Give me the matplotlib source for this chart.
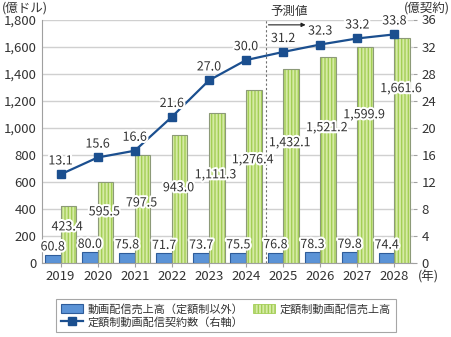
import matplotlib
matplotlib.use("Agg")
import matplotlib.pyplot as plt
import matplotlib.patheffects as pe
from matplotlib.lines import Line2D
import numpy as np

plt.rcParams['font.family'] = ['Noto Sans CJK JP', 'DejaVu Sans']
plt.rcParams['hatch.linewidth'] = 1.0

years = ['2019', '2020', '2021', '2022', '2023', '2024', '2025', '2026', '2027', '2028']
other_sales = [60.8, 80.0, 75.8, 71.7, 73.7, 75.5, 76.8, 78.3, 79.8, 74.4]
subs_sales = [423.4, 595.5, 797.5, 943.0, 1111.3, 1276.4, 1432.1, 1521.2, 1599.9, 1661.6]
contracts = [13.1, 15.6, 16.6, 21.6, 27.0, 30.0, 31.2, 32.3, 33.2, 33.8]
# label anchor heights (left-axis units) for the subscription-sales labels
subs_label_y = [267, 378, 444, 556, 652, 763, 889, 1000, 1096, 1289]

left_ticks = np.arange(0, 1801, 200)
right_ticks = np.arange(0, 37, 4)

label_names = ['動画配信売上高（定額制以外）', '定額制動画配信売上高', '定額制動画配信契約数（右軸）']

BLUE_FILL = '#5B93D6'
BLUE_EDGE = '#2E5C9A'
GREEN_FILL = '#D6EBA6'
GREEN_STRIPE = '#A3CE55'
GREEN_EDGE = '#8C9A78'
LINE_C = '#1B4F8F'
TXT = '#333333'

fig = plt.figure(figsize=(4.52, 3.37), dpi=100)
ax = fig.add_axes([42/452, 1-263/337, (413-42)/452, (263-19.5)/337])
ax2 = ax.twinx()

x = np.arange(len(years))
w = 0.42
halo = [pe.withStroke(linewidth=3, foreground='white')]

ax.bar(x - w/2, other_sales, w, color=BLUE_FILL, edgecolor=BLUE_EDGE, linewidth=0.8, zorder=3)
ax.bar(x + w/2, subs_sales, w, color=GREEN_FILL, edgecolor=GREEN_STRIPE, hatch='|||||', linewidth=0, zorder=3)
ax.bar(x + w/2, subs_sales, w, fill=False, edgecolor=GREEN_EDGE, linewidth=0.8, zorder=3)

for xi, v in zip(x, other_sales):
    ax.annotate(f'{v:.1f}', (xi - w/2, v), xytext=(0, 1), textcoords='offset points',
                ha='center', va='bottom', fontsize=9, color=TXT, path_effects=halo, zorder=6)
for xi, v, ly in zip(x, subs_sales, subs_label_y):
    ax.text(xi + w/2 - 0.03, ly, f'{v:,.1f}', ha='center', va='center', fontsize=9,
            color=TXT, path_effects=halo, zorder=6)

ax2.plot(x, contracts, color=LINE_C, linewidth=1.6, marker='s', markersize=6.2,
         markerfacecolor=LINE_C, markeredgecolor=LINE_C, zorder=5)
for xi, v in zip(x, contracts):
    ax2.annotate(f'{v:.1f}', (xi, v), xytext=(0, 5), textcoords='offset points',
                 ha='center', va='bottom', fontsize=9, color=TXT, path_effects=halo, zorder=6)

ax.set_xlim(-0.5, len(years) - 0.5)
ax.set_ylim(0, 1800)
ax2.set_ylim(0, 36)
ax.set_yticks(left_ticks)
ax.set_yticklabels([f'{t:,}' for t in left_ticks])
ax2.set_yticks(right_ticks)
ax.set_xticks(x)
ax.set_xticklabels(years)

ax.grid(axis='y', color='#D0D0D0', linewidth=1.0, zorder=0)
ax.set_axisbelow(True)
for a in (ax, ax2):
    for s in a.spines.values():
        s.set_visible(False)
ax.spines['left'].set_visible(True)
ax.spines['left'].set_color('#A0A0A0')
ax.spines['bottom'].set_visible(True)
ax.spines['bottom'].set_color('#A0A0A0')
ax.tick_params(axis='y', length=0, labelsize=9.5, labelcolor=TXT, pad=4)
ax.tick_params(axis='x', length=3, color='#A0A0A0', labelsize=9.5, labelcolor=TXT, pad=2)
ax2.tick_params(axis='y', length=3, color='#A0A0A0', labelsize=9.5, labelcolor=TXT, pad=3)

# forecast divider
ax.axvline(5.53, color='#707070', linestyle=(0, (2, 2)), linewidth=0.8, zorder=2)
ax.annotate('', xy=(6.68, 0.978), xytext=(5.53, 0.978), xycoords=('data', 'axes fraction'),
            arrowprops=dict(arrowstyle='-|>', color='#222222', lw=0.8, mutation_scale=6))
ax.text(5.65, 1.005, '予測値', transform=ax.get_xaxis_transform(), ha='left', va='bottom',
        fontsize=9, color=TXT)

fig.text(2/452, 1-8/337, '(億ドル)', ha='left', va='center', fontsize=9, color=TXT)
fig.text(450/452, 1-8/337, '(億契約)', ha='right', va='center', fontsize=9, color=TXT)
fig.text(418/452, 1-277/337, '(年)', ha='left', va='center', fontsize=9, color=TXT)

handles = [
    plt.Rectangle((0, 0), 1, 1, facecolor=BLUE_FILL, edgecolor=BLUE_EDGE, linewidth=0.8),
    Line2D([], [], color=LINE_C, linewidth=1.6, marker='s', markersize=5.5),
    plt.Rectangle((0, 0), 1, 1, facecolor=GREEN_FILL, edgecolor=GREEN_STRIPE, hatch='|||||', linewidth=0.6),
]
labels = [label_names[0], label_names[2], label_names[1]]
leg = fig.legend(handles, labels, loc='center', bbox_to_anchor=(226/452, 1-315.5/337),
                 ncol=2, fontsize=8, frameon=True, fancybox=False,
                 edgecolor='#909090', handlelength=2.0, handleheight=0.9, handletextpad=0.4,
                 borderpad=0.45, labelspacing=0.2, columnspacing=0.9, borderaxespad=0)
leg.get_frame().set_linewidth(0.8)
for t in leg.get_texts():
    t.set_color(TXT)

fig.savefig('out.png', dpi=100)
